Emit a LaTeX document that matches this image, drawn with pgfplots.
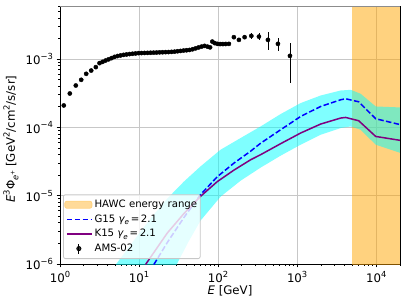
\documentclass[border=0pt]{standalone}
\usepackage{fontspec}
\setmainfont{DejaVu Sans}
\usepackage{pgfplots}
\pgfplotsset{compat=1.18}
\definecolor{mplpurple}{HTML}{800080}
\definecolor{mplorange}{HTML}{FFA500}
\definecolor{mplcyan}{RGB}{0,255,255}
\definecolor{mplblue}{RGB}{0,0,255}
\definecolor{hawcpatch}{HTML}{FFD280}
\newcommand\sups[1]{\raisebox{0.45em}{\fontsize{8.4}{9}\selectfont #1}}
\newcommand\lsub[1]{\raisebox{-0.22em}{\fontsize{7.2}{8}\selectfont #1}}
\newcommand\legfont{\fontsize{10.2}{12}\selectfont}
\newcommand\tickfont{\fontsize{11.8}{13}\selectfont}
\begin{document}
\begin{tikzpicture}
\path[use as bounding box] (-60bp,-41bp) rectangle (347bp,264bp);
\begin{axis}[
  at={(0,0)}, anchor=south west,
  scale only axis, width=340bp, height=258bp,
  xmode=log, ymode=log,
  xmin=1, xmax=2e4, ymin=1e-6, ymax=6e-3,
  xtick={1,10,100,1000,10000},
  xticklabels={10\sups{0},10\sups{1},10\sups{2},10\sups{3},10\sups{4}},
  ytick={1e-6,1e-5,1e-4,1e-3},
  yticklabels={10\sups{−6},10\sups{−5},10\sups{−4},10\sups{−3}},
  minor xtick={2,3,4,5,6,7,8,9,20,30,40,50,60,70,80,90,200,300,400,500,600,700,800,900,2000,3000,4000,5000,6000,7000,8000,9000,20000},
  minor ytick={2e-6,3e-6,4e-6,5e-6,6e-6,7e-6,8e-6,9e-6,2e-5,3e-5,4e-5,5e-5,6e-5,7e-5,8e-5,9e-5,2e-4,3e-4,4e-4,5e-4,6e-4,7e-4,8e-4,9e-4,2e-3,3e-3,4e-3,5e-3,6e-3},
  tick pos=left, tick align=outside,
  major tick length=3.5bp, minor tick length=2bp,
  every tick/.style={black, line width=0.8bp},
  grid=major, major grid style={black!22, line width=0.8bp},
  axis line style={black, line width=0.8bp},
  tick label style={font=\tickfont},
  every axis x label/.style={at={(axis description cs:0.5,0)}, yshift=-27bp, anchor=center, font=\tickfont},
  every axis y label/.style={at={(axis description cs:0,0.5)}, xshift=-49bp, yshift=-4bp, rotate=90, anchor=center, font=\tickfont},
  xlabel={{\itshape E} [GeV]},
  ylabel={{\itshape E}\sups{3}Φ\raisebox{-0.3em}{\fontsize{8.4}{9}\selectfont\itshape e\raisebox{0.45em}{\upshape\fontsize{6}{7}\selectfont +}} [GeV\sups{2}/cm\sups{2}/s/sr]},
  legend style={at={(0.009,0.0194)}, anchor=south west, fill=white, fill opacity=0.8, text opacity=1, draw=black!22, draw opacity=1, line width=0.8bp, rounded corners=2bp, font=\legfont, inner xsep=1bp, inner ysep=3.5bp, row sep=1.6bp},
  legend cell align=left,
]
% legend entries
\addlegendimage{legend image code/.code={\fill[hawcpatch] (0bp,-3.5bp) rectangle (27bp,3.5bp);}}
\addlegendentry{HAWC energy range}
\addlegendimage{legend image code/.code={\draw[mplblue, line width=1.5bp, dash pattern=on 5.5bp off 2.4bp] (2bp,0bp) -- (27bp,0bp);}}
\addlegendentry{G15 {\itshape γ}\lsub{\itshape e}\,=\,2.1}
\addlegendimage{legend image code/.code={\draw[mplpurple, line width=1.5bp] (2bp,0bp) -- (27bp,0bp);}}
\addlegendentry{K15 {\itshape γ}\lsub{\itshape e}\,=\,2.1}
\addlegendimage{legend image code/.code={\draw[black, line width=0.8bp] (14bp,-5bp) -- (14bp,5bp); \fill[black] (14bp,0bp) circle (2.1bp);}}
\addlegendentry{AMS-02}
% HAWC energy range
\addplot[draw=none, fill=mplorange, fill opacity=0.5, forget plot]
  coordinates {(5000,1e-7) (3e4,1e-7) (3e4,1e-1) (5000,1e-1)} -- cycle;
% uncertainty band
\addplot[draw=none, fill=mplcyan, fill opacity=0.5, forget plot] coordinates {
  (4.76,8.89e-7) (8.59,2.21e-6) (13.98,4.63e-6) (22.75,9.07e-6) (36.90,1.61e-5)
  (60.03,2.69e-5) (107.6,4.72e-5) (192.7,7.00e-5) (345.1,1.034e-4) (618.2,1.570e-4)
  (1107,2.273e-4) (1984,2.936e-4) (3553,3.474e-4) (4756,3.556e-4) (6364,3.109e-4)
  (9855,2.028e-4) (20420,1.961e-4)
  (20420,4.22e-5) (9855,5.59e-5) (6364,9.25e-5) (4756,1.034e-4) (3553,9.80e-5)
  (1984,7.82e-5) (1107,5.59e-5) (618.2,3.86e-5) (345.1,2.58e-5) (192.7,1.66e-5)
  (107.6,9.70e-6) (60.03,4.33e-6) (42.33,2.13e-6) (28.56,8.89e-7)
} -- cycle;
% G15
\addplot[mplblue, line width=1.5bp, dash pattern=on 5.5bp off 2.4bp, forget plot]
  coordinates {
  (15.39,9.83e-7) (22.75,2.06e-6) (36.90,4.78e-6) (60.03,1.038e-5) (97.7,1.90e-5)
  (158.5,3.00e-5) (257.8,4.49e-5) (345.1,5.87e-5) (618.2,9.25e-5) (1107,1.448e-4)
  (1984,2.028e-4) (3553,2.541e-4) (4111,2.628e-4) (6004,2.375e-4) (9855,1.340e-4)
  (20420,1.095e-4)};
% K15
\addplot[mplpurple, line width=1.5bp, forget plot]
  coordinates {
  (12.09,9.83e-7) (22.75,2.84e-6) (36.90,5.47e-6) (60.03,9.80e-6) (97.7,1.61e-5)
  (158.5,2.37e-5) (257.8,3.36e-5) (345.1,3.99e-5) (618.2,5.78e-5) (1107,8.28e-5)
  (1984,1.121e-4) (3553,1.372e-4) (4111,1.400e-4) (6004,1.253e-4) (9855,7.38e-5)
  (20420,6.45e-5)};
% AMS-02 dense points
\addplot[only marks, mark=*, mark size=2.1bp, black, forget plot] coordinates {
  (1.117,2.097e-4) (1.331,3.141e-4) (1.585,4.111e-4) (1.855,4.982e-4) (2.146,6.097e-4)
  (2.482,6.81e-4) (2.84,7.64e-4) (3.162,8.74e-4) (3.451,9.13e-4) (3.767,9.54e-4)
  (4.111,9.93e-4) (4.487,1.034e-3) (4.897,1.080e-3) (5.344,1.110e-3) (5.833,1.133e-3)
  (6.366,1.156e-3) (6.948,1.171e-3) (7.58,1.187e-3) (8.275,1.199e-3) (9.031,1.211e-3)
  (9.856,1.224e-3) (10.76,1.228e-3) (11.74,1.232e-3) (12.81,1.236e-3) (13.98,1.241e-3)
  (15.26,1.245e-3) (16.66,1.249e-3) (18.18,1.258e-3) (19.84,1.262e-3) (21.65,1.266e-3)
  (23.63,1.270e-3) (25.79,1.279e-3) (28.15,1.287e-3) (30.72,1.305e-3) (33.52,1.318e-3)
  (36.59,1.336e-3) (39.93,1.349e-3) (43.58,1.363e-3) (47.56,1.395e-3) (51.91,1.438e-3)
  (56.65,1.483e-3) (61.82,1.528e-3) (67.47,1.565e-3) (73.64,1.523e-3) (79.2,1.488e-3)
  (84.5,1.808e-3) (90.3,1.719e-3) (97.7,1.674e-3) (106.0,1.663e-3) (115.0,1.663e-3)
  (125.2,1.668e-3) (137.0,1.674e-3)};
% AMS-02 points with error bars
\addplot[only marks, mark=*, mark size=2.1bp, black, forget plot,
  error bars/.cd, y dir=both, y explicit, error mark=none,
  error bar style={line width=0.8bp, black}]
  coordinates {
  (158.5,2.097e-3) += (0,8e-5) -= (0,8e-5)
  (183.4,1.915e-3) += (0,9e-5) -= (0,9e-5)
  (216.4,2.097e-3) += (0,1.1e-4) -= (0,1.1e-4)
  (263.3,2.191e-3) += (0,2.08e-4) -= (0,2.11e-4)
  (328.5,2.139e-3) += (0,2.6e-4) -= (0,2.24e-4)
  (427,1.915e-3) += (0,5.66e-4) -= (0,5.47e-4)
  (571.5,1.674e-3) += (0,3.54e-4) -= (0,3.38e-4)
  (810.7,1.117e-3) += (0,6.31e-4) -= (0,6.71e-4)};
\draw[black!45, line width=1bp] (rel axis cs:0,1) -- (rel axis cs:1,1);
\end{axis}
\end{tikzpicture}
\end{document}
